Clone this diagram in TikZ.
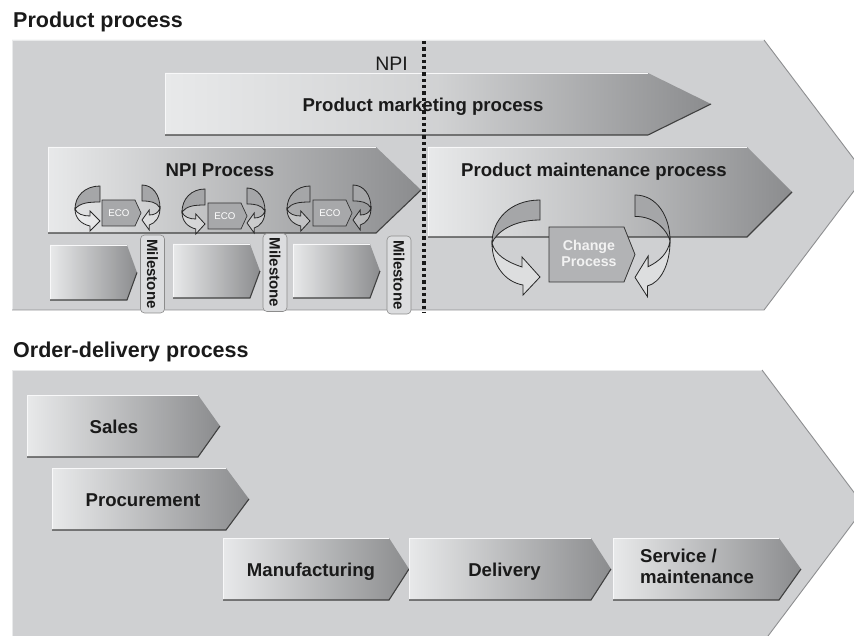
\documentclass[tikz,border=0pt]{standalone}
\usepackage{fontspec}
\setmainfont{Liberation Sans}
\usetikzlibrary{shapes.misc}
\definecolor{bgfill}{HTML}{CFD0D2}
\definecolor{bgedge}{HTML}{8E8F91}
\definecolor{chevL}{HTML}{E8E9EA}
\definecolor{chevD}{HTML}{8B8C8E}
\definecolor{loopgray}{HTML}{A5A6A8}
\definecolor{ecogray}{HTML}{A7A8AA}
\definecolor{chgray}{HTML}{B2B3B5}
\definecolor{tabgray}{HTML}{DCDDDF}
\definecolor{txt}{HTML}{1A1A1A}
\tikzset{
  chevshade/.style={left color=chevL, right color=chevD},
  mktshade/.style={left color=chevL, right color=chevD, middle color=chevL!75!chevD},
  mntshade/.style={left color=chevL, right color=chevD, middle color=chevL!55!chevD},
  hiline/.style={draw=white!70!chevL, line width=0.8pt},
  shline/.style={draw=black!75, line width=1.1pt},
  title/.style={font=\bfseries\fontsize{21.5}{24}\selectfont, text=txt, inner sep=0pt},
  lbl/.style={font=\bfseries\fontsize{18.6}{21}\selectfont, text=txt, inner sep=0pt},
  npilbl/.style={font=\fontsize{19.5}{22}\selectfont, text=txt, inner sep=0pt},
  ecobox/.style={fill=ecogray, draw=black!80, line width=0.7pt},
  ecotext/.style={font=\fontsize{9.7}{11}\selectfont, text=white, inner sep=0pt},
  chbox/.style={fill=chgray, draw=black!80, line width=0.8pt},
  chtext/.style={font=\bfseries\fontsize{14.2}{16.5}\selectfont, text=white!95!black, inner sep=0pt, align=center},
  mstab/.style={rounded corners=4pt, fill=tabgray, draw=black!45, line width=0.6pt,
     minimum width=78pt, minimum height=24pt, inner sep=0pt,
     font=\bfseries\fontsize{15}{17}\selectfont, text=txt},
  npiline/.style={draw=black!90, line width=3.3pt, dash pattern=on 3.3pt off 3pt},
  loopline/.style={draw=black!85, line width=0.8pt},
  loopback/.style={fill=loopgray, loopline},
  loopfront/.style={fill=white, fill opacity=0.3, loopline},
}
\newcommand{\LoopBig}{%
  \filldraw[loopback] (0,0) .. controls (-30,0) and (-48,20) .. (-48,43)
      .. controls (-44,33) and (-28,20) .. (0,20) -- cycle;
  \filldraw[loopfront] (-48,43) .. controls (-48,65) and (-35,82) .. (-17,85)
      -- (-17,95) -- (0,77) -- (-18,57) -- (-18,67)
      .. controls (-33,62) and (-45,55) .. (-48,43) -- cycle;
}
\newcommand{\LoopSmall}{%
  \filldraw[loopback] (0,0) .. controls (-15,0) and (-25,10) .. (-25,23)
      .. controls (-20,17) and (-12,16) .. (0,16) -- cycle;
  \filldraw[loopfront] (-25,23) .. controls (-25,32) and (-19,38) .. (-10,40)
      -- (-10,45) -- (0,35) -- (-10,25) -- (-10,30)
      .. controls (-17,30) and (-23,28) .. (-25,23) -- cycle;
}
\newcommand{\ProcChev}[6]{%
  \shade[#6] (#1,#2) -- (#3,#2) -- (#4,{(#2+#5)/2}) -- (#3,#5) -- (#1,#5) -- cycle;
  \draw[hiline] (#1,#5) -- (#1,#2) -- (#3,#2);
  \draw[shline] (#4,{(#2+#5)/2}) -- (#3,#5) -- (#1,#5);
}
\newcommand{\EcoAt}[3]{%
  \filldraw[ecobox] (#2,#3) -- ++(33,0) -- ++(6,13) -- ++(-6,13) -- ++(-33,0) -- cycle;
  \node[ecotext] (#1) at ({#2+17},{#3+13}) {ECO};
}
\begin{document}
\begin{tikzpicture}[x=1pt, y=-1pt]
\useasboundingbox (0,0) rectangle (854,636);
\clip (0,0) rectangle (854,636);
\fill[white] (0,0) rectangle (854,636);

% ---------- Product process ----------
\node[title, anchor=base west] (t1) at (13,28) {Product process};
\fill[bgfill] (12,40) -- (764,40) -- (866,175) -- (764,310) -- (12,310) -- cycle;
\draw[white!55!bgfill, line width=0.8pt] (12,310) -- (12,40) -- (764,40);
\draw[bgedge, line width=0.9pt] (764,40) -- (866,175) -- (764,310) -- (12,310);

\node[npilbl, anchor=base east] (npi) at (408,71) {NPI};

% marketing
\ProcChev{165}{73}{648}{711}{135}{mktshade}
\node[lbl, anchor=base] (mkt) at (423,112) {Product marketing process};

% NPI process
\ProcChev{48}{147}{376}{421}{233}{chevshade}
\node[lbl, anchor=base] (npip) at (220,177) {NPI Process};

% maintenance
\ProcChev{428}{147}{747}{792}{237}{mntshade}
\node[lbl, anchor=base] (mnt) at (594,177) {Product maintenance process};

% milestones
\ProcChev{50}{245}{127}{137}{300}{chevshade}
\ProcChev{173}{244}{250}{260}{298}{chevshade}
\ProcChev{293}{244}{370}{380}{298}{chevshade}
\node[mstab, rotate=-90] (ms1) at (152.5,274) {Milestone};
\node[mstab, rotate=-90] (ms2) at (275,272.5) {Milestone};
\node[mstab, rotate=-90] (ms3) at (399,275) {Milestone};

% ECO loops
\EcoAt{eco1}{102}{200}
\EcoAt{eco2}{208}{203}
\EcoAt{eco3}{313}{200}
\begin{scope}[shift={(100,186)}]\LoopSmall\end{scope}
\begin{scope}[shift={(142,185)}, xscale=-0.72]\LoopSmall\end{scope}
\begin{scope}[shift={(205,189)}, xscale=0.92]\LoopSmall\end{scope}
\begin{scope}[shift={(247,188)}, xscale=-0.72]\LoopSmall\end{scope}
\begin{scope}[shift={(310,186)}, xscale=0.92]\LoopSmall\end{scope}
\begin{scope}[shift={(353,185)}, xscale=-0.72]\LoopSmall\end{scope}

% change process
\filldraw[chbox] (549,227) -- (624,227) -- (635,254.5) -- (624,282) -- (549,282) -- cycle;
\node[chtext] (chg) at (589,253.5) {Change\\Process};
\begin{scope}[shift={(540,200)}]\LoopBig\end{scope}
\begin{scope}[shift={(635,195)}, xscale=-0.73, yscale=1.07]\LoopBig\end{scope}

% NPI divider
\coordinate (npitop) at (424,41);
\coordinate (npibot) at (424,312);
\draw[npiline] (npitop) -- (npibot);

% ---------- Order-delivery process ----------
\node[title, anchor=base west] (t2) at (13,357) {Order-delivery process};
\fill[bgfill] (12,370) -- (762,370) -- (865,507) -- (762,644) -- (12,644) -- cycle;
\draw[white!55!bgfill, line width=0.8pt] (12,644) -- (12,370) -- (762,370);
\draw[bgedge, line width=0.9pt] (762,370) -- (865,507) -- (762,644);

\ProcChev{27}{395}{198}{220}{457}{chevshade}
\node[lbl, anchor=base] (sales) at (114,433) {Sales};
\ProcChev{52}{468}{226}{249}{530}{chevshade}
\node[lbl, anchor=base] (proc) at (143,506) {Procurement};
\ProcChev{223}{538}{389}{409}{600}{chevshade}
\node[lbl, anchor=base] (manu) at (311,576) {Manufacturing};
\ProcChev{409}{538}{591}{611}{600}{chevshade}
\node[lbl, anchor=base] (deliv) at (504.5,576) {Delivery};
\ProcChev{613}{538}{779}{801}{600}{chevshade}
\node[lbl, anchor=west, align=left] (serv) at (640,566) {Service /\\maintenance};
\end{tikzpicture}
\end{document}
